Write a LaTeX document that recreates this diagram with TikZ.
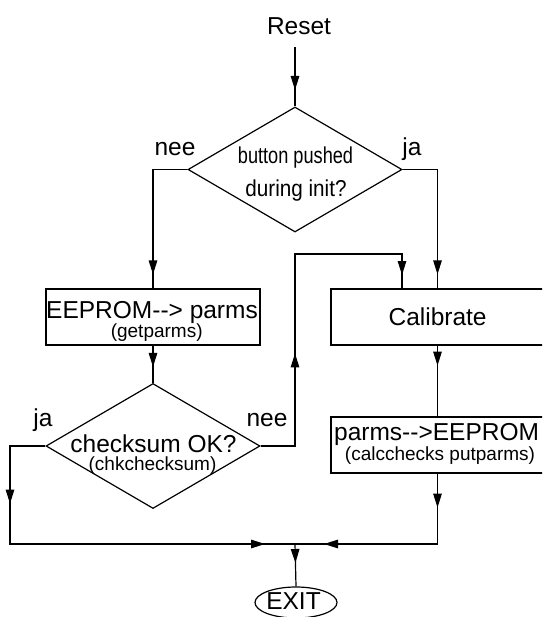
\documentclass[tikz,border=0pt]{standalone}
\usepackage{fontspec}
\usepackage{graphicx}
\setmainfont{Liberation Sans}
\usetikzlibrary{shapes.geometric,arrows.meta,decorations.markings}
\tikzset{
  tri/.tip={Triangle[length=14pt,width=8.5pt]},
  ln/.style={line width=1.2pt},
  arr/.style={postaction={decorate,decoration={markings,mark=at position #1 with {\arrow{tri}}}}},
  arrtwo/.style 2 args={postaction={decorate,decoration={markings,mark=at position #1 with {\arrow{tri}},mark=at position #2 with {\arrow{tri}}}}},
  box/.style={draw,ln,minimum width=214pt,minimum height=56pt,inner sep=0pt},
  dia/.style={draw,ln,diamond,minimum width=214pt,minimum height=125pt,inner sep=0pt},
  big/.style={font=\fontsize{24.5}{26}\selectfont,inner sep=0pt,anchor=base},
  small/.style={font=\fontsize{19}{20}\selectfont,inner sep=0pt,anchor=base},
  narrow/.style={font=\fontsize{23}{24}\selectfont,inner sep=0pt,anchor=base},
}
\begin{document}
\begin{tikzpicture}[x=1pt,y=-1pt]
\useasboundingbox (0,0) rectangle (542,617);
\clip (0,0) rectangle (542,617);
% start
\node[big] (treset) at (299,35) {Reset};
\coordinate (r0) at (295,47);
% decision 1
\node[dia] (d1) at (295,169.5) {};
\node[narrow] (d1a) at (295.5,163.3) {\scalebox{0.79}[1]{button pushed}};
\node[narrow] (d1b) at (296,196.7) {\scalebox{0.9}[1]{during init?}};
\node[big] (nee1) at (175,156) {nee};
\node[big] (ja1) at (412,156) {ja};
% boxes
\node[box] (b1) at (153,317) {};
\node[big] (b1a) at (152,318) {EEPROM-{}-> parms};
\node[small] (b1b) at (156.7,337.5) {(getparms)};
\node[box,minimum width=213pt] (b2) at (437.5,317) {};
\node[big] (b2a) at (437.6,325.5) {Calibrate};
\node[box,minimum width=213pt] (b3) at (437.5,445) {};
\node[big] (b3a) at (436.6,440) {parms-{}->EEPROM};
\node[small] (b3b) at (440,460.5) {(calcchecks putparms)};
% decision 2
\node[dia] (d2) at (153,446) {};
\node[big] (d2a) at (153.5,452.5) {checksum OK?};
\node[small] (d2b) at (152.5,470.5) {(chkchecksum)};
\node[big] (ja2) at (43,426) {ja};
\node[big] (nee2) at (267,426) {nee};
% exit
\node[draw,ln,ellipse,minimum width=82pt,minimum height=31pt,inner sep=0pt] (ex) at (296,602.5) {};
\node[big] (exa) at (293.5,609) {EXIT};
% helper coordinates
\coordinate (m) at (295,544);
\coordinate (c1) at (10,544);
\coordinate (c2) at (295,254);
\coordinate (b2in) at (402,289);
% connectors
\draw[ln,arr=43pt] (r0) -- (d1.north);
\draw[ln,arr=-14pt] (d1.west) -| (b1.north);
\draw[ln,arr=-14pt] (d1.east) -| (b2.north);
\draw[ln,arr=-16pt] (b1.south) -- (d2.north);
\draw[ln,arrtwo={127pt}{-14pt}] (d2.east) -| (c2) -| (b2in);
\draw[ln,arrtwo={93pt}{-30pt}] (d2.west) -| (c1) -- (m);
\draw[ln,arrtwo={34pt}{-29pt}] (b3.south) |- (m);
\draw[ln,arr=20pt] (b2.south) -- (b3.north);
\draw[ln,arr=19pt] (m) -- (ex.north);
\end{tikzpicture}
\end{document}
